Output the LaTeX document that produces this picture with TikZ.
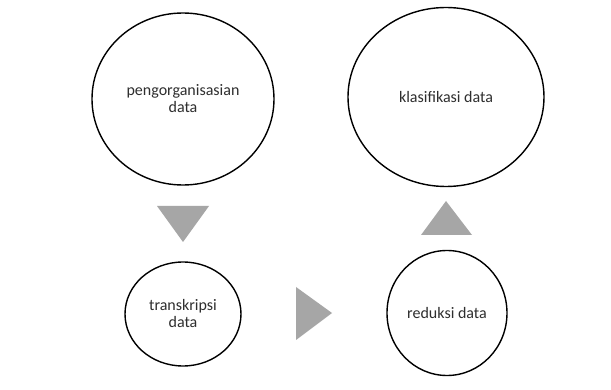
\documentclass[tikz,border=0pt]{standalone}
\usepackage{fontspec}
\setmainfont{Carlito}
\usetikzlibrary{shapes.geometric}
\definecolor{txt}{HTML}{2E2E2E}
\definecolor{arrowgray}{HTML}{A6A6A6}
\tikzset{
  stage/.style={draw=black, line width=1.4pt, ellipse, fill=white, text=txt,
    align=center, font=\fontsize{16}{17}\selectfont, inner sep=0pt},
  pointer/.style={fill=arrowgray, draw=none}
}
\begin{document}
\begin{tikzpicture}[x=1pt,y=-1pt]
  \useasboundingbox[fill=white] (0,0) rectangle (611,390);
  % stages of the analysis
  \node[stage, minimum width=182pt, minimum height=172pt] (org) at (183,99)
    {pengorganisasian\\data};
  \node[stage, minimum width=196pt, minimum height=179pt] (kla) at (446,97)
    {klasifikasi data};
  \node[stage, minimum width=116pt, minimum height=104pt] (tra) at (183,314)
    {transkripsi\\data};
  \node[stage, minimum width=120pt, minimum height=125pt] (red) at (447,313)
    {reduksi data};
  % direction markers between the stages
  \fill[pointer] (157,206) -- (209,206) -- (183,242) -- cycle;
  \fill[pointer] (296,287) -- (332,313) -- (296,340) -- cycle;
  \fill[pointer] (421,235) -- (472,235) -- (446,201) -- cycle;
\end{tikzpicture}
\end{document}
